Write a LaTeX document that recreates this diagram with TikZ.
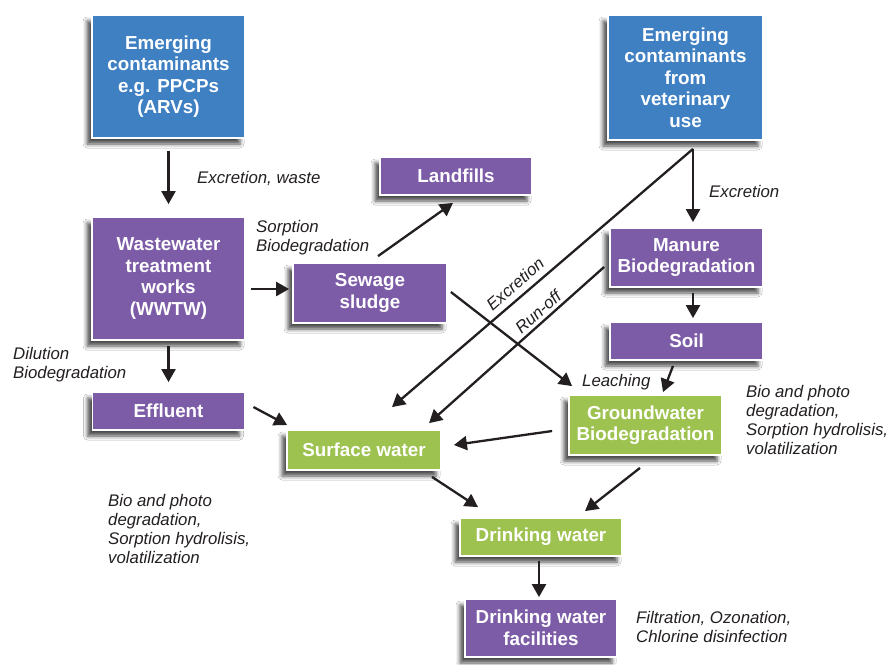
\documentclass[tikz,border=0pt]{standalone}
\usepackage{fontspec}
\setmainfont{Liberation Sans}
\usetikzlibrary{arrows.meta,calc,shadows.blur}
\definecolor{cblue}{HTML}{3F80C3}
\definecolor{cpurple}{HTML}{7D5CA7}
\definecolor{cgreen}{HTML}{9DC24F}
\definecolor{ctext}{HTML}{231F20}
\newcommand\bxfont{\fontsize{18.8}{21.5}\selectfont\bfseries}
\newcommand\lblfont{\fontsize{16.8}{19}\selectfont\itshape}
\begin{document}
\begin{tikzpicture}[x=1pt,y=-1pt,
  box/.style={draw=white, line width=1.8pt, text=white, font=\bxfont, align=center, inner sep=0pt,
    blur shadow={shadow xshift=-5pt, shadow yshift=-6pt, shadow blur radius=4pt, shadow opacity=70}},
  bluebox/.style={box, fill=cblue},
  purplebox/.style={box, fill=cpurple},
  greenbox/.style={box, fill=cgreen},
  lbl/.style={font=\lblfont, text=ctext, inner sep=0pt, align=left},
  arr/.style={draw=ctext, line width=2.3pt, -{Triangle[length=13pt,width=14pt]}}
]
\useasboundingbox (0,0) rectangle (888,664);
\fill[white] (0,0) rectangle (888,664);

% boxes
\node[bluebox, minimum width=153pt, minimum height=123pt] (blue1) at (168.5,76.5) {Emerging\\contaminants\\e.g. PPCPs\\(ARVs)};
\node[bluebox, minimum width=155pt, minimum height=125pt] (blue2) at (685.5,77.5) {Emerging\\contaminants\\from\\veterinary\\use};
\node[purplebox, minimum width=152pt, minimum height=38pt] (landfills) at (456,176) {Landfills};
\node[purplebox, minimum width=153pt, minimum height=123pt] (wwtw) at (168.5,278.5) {Wastewater\\treatment\\works\\(WWTW)};
\node[purplebox, minimum width=154pt, minimum height=60pt] (sewage) at (370,293) {Sewage\\sludge};
\node[purplebox, minimum width=153pt, minimum height=59pt] (manure) at (686.5,257.5) {Manure\\Biodegradation};
\node[purplebox, minimum width=153pt, minimum height=38pt] (soil) at (686.5,341) {Soil};
\node[purplebox, minimum width=152pt, minimum height=38pt] (effluent) at (168.5,411) {Effluent};
\node[greenbox, minimum width=154pt, minimum height=40pt] (surface) at (364,450) {Surface water};
\node[greenbox, minimum width=153pt, minimum height=60pt] (ground) at (645.5,425) {Groundwater\\Biodegradation};
\node[greenbox, minimum width=162pt, minimum height=38pt] (dwater) at (541,537) {Drinking water};
\node[purplebox, minimum width=152pt, minimum height=58pt] (dwf) at (541,628) {Drinking water\\facilities};

% connectors
\coordinate (vb) at ($(blue2.south)+(7.5,8)$);
\draw[arr] ($(blue1.south)+(0,12)$) -- ($(wwtw.north)+(0,-12)$);
\draw[arr] ($(wwtw.east)+(5,10.5)$) -- ($(sewage.west)+(-3,-4)$);
\draw[arr] ($(sewage.north)+(8,-6)$) -- ($(landfills.south)+(-3,7)$);
\draw[arr] ($(wwtw.south)+(0,5)$) -- ($(effluent.north)+(0,-9)$);
\draw[arr] ($(effluent.east)+(8,-4)$) -- ($(surface.west)+(1,-25)$);
\draw[arr] ($(sewage.east)+(3,-1)$) -- ($(ground.north west)+(4,-8)$);
\draw[arr] (vb) -- ($(manure.north)+(6.5,-5)$);
\draw[arr] (vb) -- ($(surface.north)+(28,-22)$);
\draw[arr] ($(manure.west)+(-5,9.5)$) -- ($(surface.north)+(65,-6)$);
\draw[arr] ($(manure.south)+(6.5,5)$) -- ($(soil.north)+(6.5,-3)$);
\draw[arr] ($(soil.south)+(-13.5,5)$) -- ($(ground.north)+(17.5,-2)$);
\draw[arr] ($(ground.west)+(-16,6)$) -- ($(surface.east)+(12,-5)$);
\draw[arr] ($(surface.south)+(68,6)$) -- ($(dwater.north)+(-63,-10)$);
\draw[arr] ($(ground.south)+(-5.5,12)$) -- ($(dwater.north)+(44,-6)$);
\draw[arr] ($(dwater.south)+(-2,4)$) -- ($(dwf.north)+(-2,-1)$);

% labels
\node[lbl, anchor=west] (l1) at (197,178) {Excretion, waste};
\node[lbl, anchor=west] (l2) at (256,237.5) {Sorption\\Biodegradation};
\node[lbl, rotate=41] (l3) at (515,284) {Excretion};
\node[lbl, rotate=42] (l4) at (538,312) {Run-off};
\node[lbl, anchor=west] (l5) at (709,191) {Excretion};
\node[lbl, anchor=west] (l6) at (13,365) {Dilution\\Biodegradation};
\node[lbl, anchor=west] (l7) at (582,382.5) {Leaching};
\node[lbl, anchor=west] (l8) at (746,419.5) {Bio and photo\\degradation,\\Sorption hydrolisis,\\volatilization};
\node[lbl, anchor=west] (l9) at (108,529) {Bio and photo\\degradation,\\Sorption hydrolisis,\\volatilization};
\node[lbl, anchor=west] (l10) at (636,627) {Filtration, Ozonation,\\Chlorine disinfection};
\end{tikzpicture}
\end{document}
